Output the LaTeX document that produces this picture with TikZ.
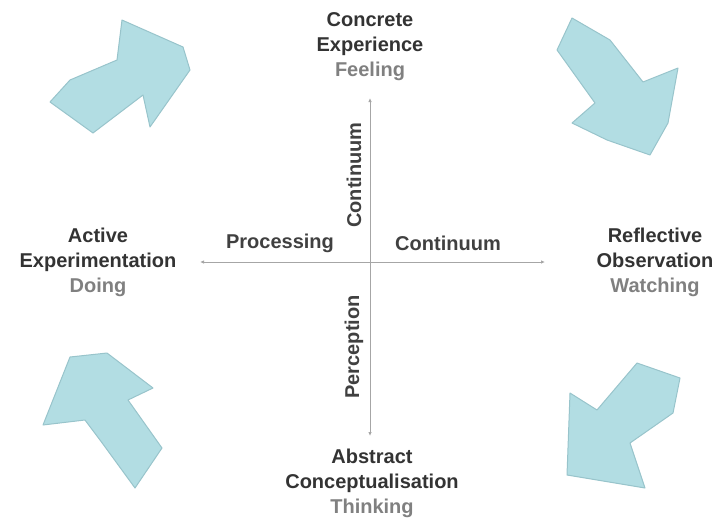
\documentclass[tikz,border=0pt]{standalone}
\usepackage{fontspec}
\setmainfont{Liberation Sans}
\usetikzlibrary{positioning,arrows.meta}
\definecolor{cyclefill}{RGB}{178,221,227}
\definecolor{cycleedge}{RGB}{152,196,203}

\begin{document}
\begin{tikzpicture}[
  x=1pt, y=-1pt,
  every node/.style={font=\fontsize{20}{25}\selectfont\bfseries, inner sep=0pt},
  stage/.style={align=center, text=black!80},
  axislbl/.style={text=black!75},
  axisline/.style={draw=black!35, line width=0.8pt, {Latex[length=4pt,width=3.5pt]}-{Latex[length=4pt,width=3.5pt]}},
  cycarrow/.style={fill=cyclefill, draw=cycleedge, line width=1pt, line join=round},
]
\useasboundingbox (0,0) rectangle (714,522);

% the four stages
\node[stage] (ce) at (370,47) {Concrete\\Experience\\{\color{black!50}Feeling}};
\node[stage] (ro) at (655,262) {Reflective\\Observation\\{\color{black!50}Watching}};
\node[stage] (ac) at (372,483) {Abstract\\Conceptualisation\\{\color{black!50}Thinking}};
\node[stage] (ae) at (98,262) {Active\\Experimentation\\{\color{black!50}Doing}};

% axes
\coordinate (vtop) at (370,98);
\coordinate (vbot) at (370,436);
\coordinate (hleft) at (200,262);
\coordinate (hright) at (545,262);
\draw[axisline] (hleft) -- (hright);
\draw[axisline] (vtop) -- (vbot);

\node[axislbl] (proc) at (280,243) {Processing};
\node[axislbl] (pcont) at (448,243) {Continuum};
\node[axislbl, rotate=90] (vcont) at (354,175) {Continuum};
\node[axislbl, rotate=90] (perc) at (354,347) {Perception};

% cycle arrows
\draw[cycarrow] (50,102) -- (70,80) -- (117,60) -- (122,20) -- (183,47) -- (190,70)
  -- (150,127) -- (143,95) -- (93,133) -- cycle;
\draw[cycarrow] (572,18) -- (610,40) -- (643,82) -- (678,68) -- (668,123) -- (650,155)
  -- (607,140) -- (572,123) -- (595,103) -- (557,50) -- cycle;
\draw[cycarrow] (637,363) -- (680,378) -- (673,413) -- (630,443) -- (645,488)
  -- (567,475) -- (570,393) -- (597,410) -- cycle;
\draw[cycarrow] (70,357) -- (107,353) -- (153,388) -- (128,400) -- (162,448)
  -- (135,488) -- (100,440) -- (85,420) -- (43,425) -- cycle;
\end{tikzpicture}
\end{document}
